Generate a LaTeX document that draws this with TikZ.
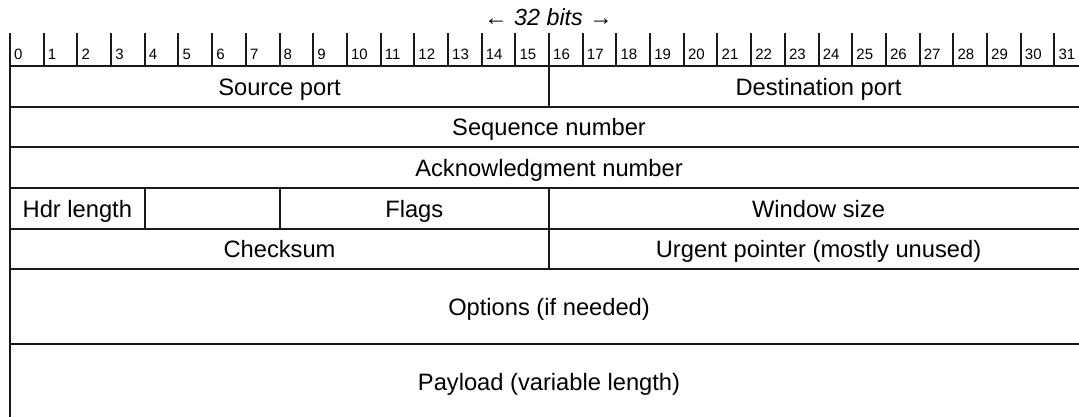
\documentclass[tikz,border=0pt]{standalone}
\usepackage{fontspec}
\setmainfont{Liberation Sans}
\begin{document}
\begin{tikzpicture}[x=1pt,y=-1pt,
  field/.style={draw=black!90, line width=2pt, rectangle, inner sep=0pt, outer sep=0pt,
    font=\fontsize{23.7}{26}\selectfont, text height=17.4pt, text depth=0pt},
  tick/.style={draw=black!90, line width=2pt},
  bitlabel/.style={anchor=base west, inner sep=0pt, font=\fontsize{15}{17}\selectfont},
  title/.style={anchor=base, inner sep=0pt, font=\fontsize{23.3}{26}\selectfont\itshape}]
\useasboundingbox (0,0) rectangle (1079,416);
\clip (0,0) rectangle (1079,416);
\def\bw{33.69}
\newcommand\fld[6]{%
  \node[field, minimum width={(#3-#2)*\bw*1pt}, minimum height={(#5-#4)*1pt}]
    (#1) at ({10+(#2+#3)/2*\bw}, {(#4+#5)/2}) {#6};}
\node[title] (title) at (548.5,25) {← 32 bits →};
\foreach \i in {0,...,31} {
  \coordinate (t\i) at ({10+\i*\bw},33);
  \coordinate (b\i) at ({10+\i*\bw},66);
  \draw[tick] (t\i) -- (b\i);
  \node[bitlabel] (l\i) at ({10+\i*\bw+4},59) {\i};
}
\fld{src}{0}{16}{66}{106.7}{Source port}
\fld{dst}{16}{32}{66}{106.7}{Destination port}
\fld{seq}{0}{32}{106.7}{147.3}{Sequence number}
\fld{ack}{0}{32}{147.3}{188}{Acknowledgment number}
\fld{hdr}{0}{4}{188}{228.7}{Hdr length}
\fld{rsv}{4}{8}{188}{228.7}{}
\fld{flg}{8}{16}{188}{228.7}{Flags}
\fld{win}{16}{32}{188}{228.7}{Window size}
\fld{chk}{0}{16}{228.7}{269.3}{Checksum}
\fld{urg}{16}{32}{228.7}{269.3}{Urgent pointer (mostly unused)}
\fld{opt}{0}{32}{269.3}{344}{Options (if needed)}
\fld{pay}{0}{32}{344}{419}{Payload (variable length)}
\end{tikzpicture}
\end{document}
